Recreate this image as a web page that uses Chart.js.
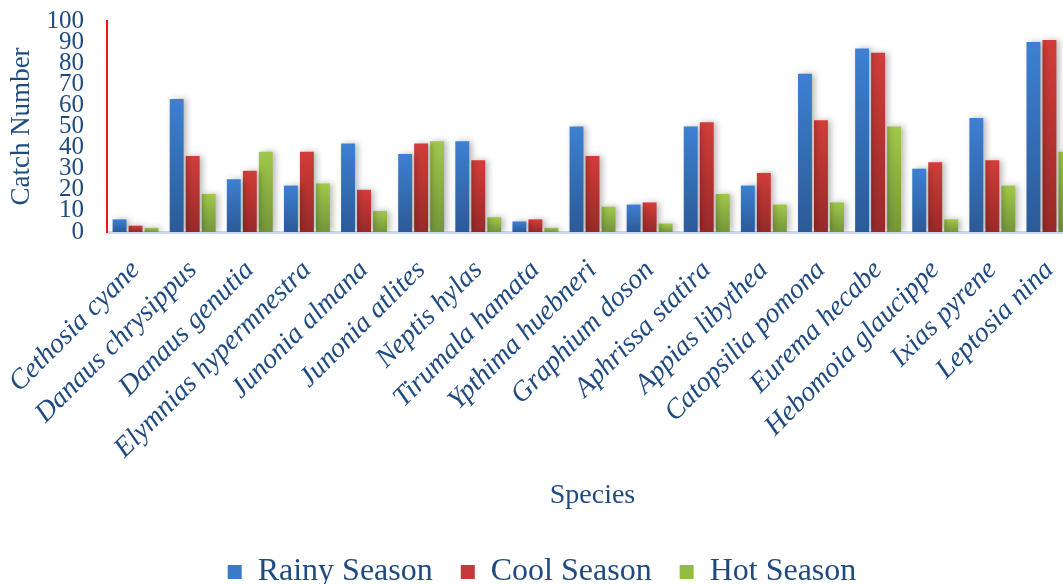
<!DOCTYPE html>
<html>
<head>
<meta charset="utf-8">
<script src="https://cdn.jsdelivr.net/npm/chart.js@4/dist/chart.umd.min.js"></script>
<style>
  html, body { margin: 0; padding: 0; background: #fff; overflow: hidden; }
  #wrap { width: 1080px; height: 584px; }
</style>
</head>
<body>
<div id="wrap"><canvas id="chart" width="1080" height="584"></canvas></div>
<script>
const species = ['Cethosia cyane', 'Danaus chrysippus', 'Danaus genutia', 'Elymnias hypermnestra',
    'Junonia almana', 'Junonia atlites', 'Neptis hylas', 'Tirumala hamata', 'Ypthima huebneri',
    'Graphium doson', 'Aphrissa statira', 'Appias libythea', 'Catopsilia pomona', 'Eurema hecabe',
    'Hebomoia glaucippe', 'Ixias pyrene', 'Leptosia nina'];
const rainy = [6, 63, 25, 22, 42, 37, 43, 5, 50, 13, 50, 22, 75, 87, 30, 54, 90];
const cool = [3, 36, 29, 38, 20, 42, 34, 6, 36, 14, 52, 28, 53, 85, 33, 34, 91];
const hot = [2, 18, 38, 23, 10, 43, 7, 2, 12, 4, 18, 13, 14, 50, 6, 22, 38];

const TEXT = '#1F4A80';
const SERIF = "'Liberation Serif', 'Times New Roman', serif";

// vertical gradient for each bar, light at top, dark at bottom
function barFill(top, bottom) {
    return function (ctx) {
        const chart = ctx.chart;
        const y = chart.scales.y;
        if (!chart.chartArea || ctx.raw === undefined) return top;
        const yTop = y.getPixelForValue(ctx.raw);
        const yBot = y.getPixelForValue(0);
        if (!(yBot > yTop)) return top;
        const g = chart.ctx.createLinearGradient(0, yTop, 0, yBot);
        g.addColorStop(0, top);
        g.addColorStop(1, bottom);
        return g;
    };
}

const solid = ['#3A78C8', '#C8383A', '#92BC42'];

const shadowPlugin = {
    id: 'barShadow',
    beforeDatasetsDraw(chart) {
        const c = chart.ctx;
        c.save();
        c.shadowColor = 'rgba(0,0,0,0.28)';
        c.shadowBlur = 6;
        c.shadowOffsetX = 3;
        c.shadowOffsetY = 0;
    },
    afterDatasetsDraw(chart) {
        chart.ctx.restore();
    }
};

new Chart(document.getElementById('chart'), {
    type: 'bar',
    data: {
        labels: species,
        datasets: [
            { label: 'Rainy Season', data: rainy, backgroundColor: barFill('#3D80D2', '#2B5A97') },
            { label: 'Cool Season', data: cool, backgroundColor: barFill('#D23D39', '#962A28') },
            { label: 'Hot Season', data: hot, backgroundColor: barFill('#A0C84A', '#75953A') }
        ]
    },
    plugins: [shadowPlugin],
    options: {
        responsive: false,
        animation: false,
        layout: { padding: { left: 6, top: 0, right: 2, bottom: -14 } },
        datasets: {
            bar: { categoryPercentage: 0.84, barPercentage: 0.87 }
        },
        scales: {
            x: {
                grid: { display: false, drawTicks: false },
                border: { display: true, color: '#C9D8EE', width: 3 },
                afterFit(scale) {
                    // rotated labels hang past the plot edges like the original
                    scale.paddingLeft = 0;
                    scale.paddingRight = 0;
                    scale.height = 296;
                },
                ticks: {
                    color: TEXT,
                    autoSkip: false,
                    minRotation: 45,
                    maxRotation: 45,
                    padding: 22,
                    font: { family: SERIF, size: 28, style: 'italic' }
                },
                title: {
                    display: true,
                    text: 'Species',
                    color: TEXT,
                    padding: { top: 10, bottom: 16 },
                    font: { family: SERIF, size: 28 }
                }
            },
            y: {
                min: 0,
                max: 100,
                grid: { display: false, drawTicks: false },
                border: { display: true, color: '#E8181C', width: 2 },
                afterFit(scale) {
                    scale.paddingTop = 21;
                    scale.width = 101;
                },
                ticks: {
                    stepSize: 10,
                    autoSkip: false,
                    color: TEXT,
                    padding: 23,
                    font: { family: SERIF, size: 25 }
                },
                title: {
                    display: true,
                    text: 'Catch Number',
                    color: TEXT,
                    padding: { top: 0, bottom: 8 },
                    font: { family: SERIF, size: 27 }
                }
            }
        },
        plugins: {
            tooltip: { enabled: false },
            legend: {
                position: 'bottom',
                labels: {
                    color: TEXT,
                    boxWidth: 14,
                    boxHeight: 14,
                    padding: 28,
                    font: { family: SERIF, size: 32 },
                    generateLabels(chart) {
                        const items = Chart.defaults.plugins.legend.labels.generateLabels(chart);
                        items.forEach((it, i) => {
                            it.fillStyle = solid[i];
                            it.strokeStyle = solid[i];
                            it.lineWidth = 0;
                        });
                        return items;
                    }
                }
            }
        }
    }
});
</script>
</body>
</html>
